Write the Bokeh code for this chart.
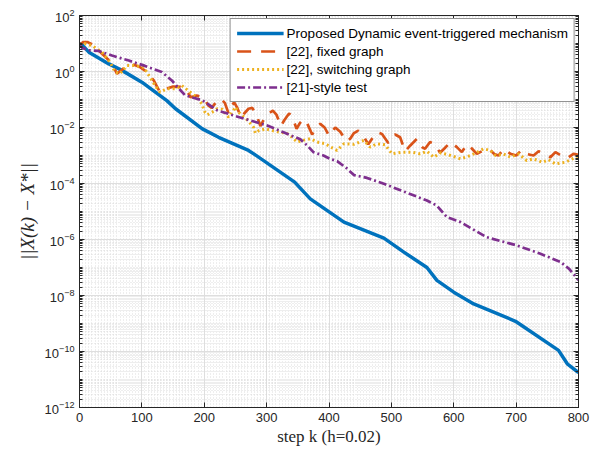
import numpy as np
from bokeh.plotting import figure
from bokeh.models import FixedTicker, LogAxis, LinearAxis, CustomJSTickFormatter
from bokeh.embed import file_html
from bokeh.resources import INLINE

# ---- data (log10 of error) ----
x_tick_vals = [0, 100, 200, 300, 400, 500, 600, 700, 800]
y_tick_exps = [-12, -10, -8, -6, -4, -2, 0, 2]

k_prop = [0, 2, 15, 47, 68, 100, 140, 154, 197, 223, 271, 280, 345, 352, 370, 424, 488,
          520, 557, 573, 600, 632, 699, 768, 782, 800]
lg_prop = [0.95, 1.0, 0.69, 0.27, 0.04, -0.38, -1.04, -1.33, -2.05, -2.35, -2.82, -2.95,
           -3.95, -4.12, -4.55, -5.38, -5.95, -6.45, -7.0, -7.46, -7.88, -8.3, -8.92,
           -9.96, -10.44, -10.75]

k_fixed = [0, 6, 13, 22, 32, 45, 54, 60, 66, 76, 87, 96, 108, 119, 129, 138, 150, 162, 172,
           178, 188, 199, 206, 212, 218, 226, 233, 239, 243, 248, 253, 259, 264, 271, 277,
           283, 290, 296, 303, 310, 316, 323, 328, 336, 341, 348, 353, 359, 365, 373, 379,
           386, 393, 400, 405, 410, 418, 428, 434, 440, 447, 455, 463, 469, 477, 485, 495,
           500, 506, 514, 522, 530, 541, 549, 554, 562, 570, 578, 585, 595, 605, 613, 621,
           629, 637, 645, 656, 665, 672, 680, 691, 700, 709, 718, 728, 736, 745, 755, 763,
           772, 782, 792, 800]
lg_fixed = [0.95, 1.05, 1.05, 0.95, 0.72, 0.45, 0.2, -0.08, 0.02, 0.21, 0.24, 0.17, -0.02,
            -0.32, -0.74, -0.62, -0.54, -0.55, -0.68, -0.92, -0.86, -0.92, -1.2, -1.3, -1.12,
            -0.97, -1.12, -1.5, -1.25, -1.1, -1.3, -1.65, -1.5, -1.33, -1.3, -1.5, -1.95,
            -1.7, -1.5, -1.4, -1.55, -1.95, -1.75, -1.5, -1.6, -2.05, -1.85, -1.7, -1.85,
            -2.25, -2.0, -1.87, -2.0, -2.3, -2.15, -2.0, -2.15, -2.5, -2.4, -2.2, -2.11,
            -2.3, -2.6, -2.4, -2.17, -2.23, -2.55, -2.4, -2.25, -2.35, -2.85, -2.65, -2.4,
            -2.7, -2.76, -2.52, -2.6, -2.9, -2.75, -2.52, -2.7, -2.88, -2.6, -2.75, -2.94,
            -2.85, -2.76, -2.95, -3.0, -2.76, -2.94, -3.0, -2.8, -2.95, -3.0, -2.85, -2.95,
            -3.06, -2.88, -3.0, -3.1, -2.94, -2.98]

k_switch = [0, 8, 20, 36, 49, 57, 65, 76, 89, 103, 113, 121, 129, 140, 153, 164, 174, 188,
            196, 201, 205, 213, 221, 229, 234, 239, 245, 250, 255, 261, 270, 279, 282, 288,
            298, 309, 322, 332, 341, 349, 360, 370, 381, 394, 403, 413, 424, 440, 456, 466,
            477, 490, 501, 517, 533, 546, 557, 568, 579, 595, 611, 627, 648, 659, 667, 680,
            691, 704, 717, 728, 742, 752, 763, 779, 790, 800]
lg_switch = [0.95, 1.0, 0.93, 0.69, 0.33, -0.02, -0.08, 0.21, 0.21, 0.15, -0.2, -0.5, -0.74,
             -0.62, -0.62, -0.5, -0.68, -0.92, -1.15, -1.45, -1.55, -1.45, -1.33, -1.35,
             -1.51, -1.63, -1.45, -1.27, -1.45, -1.57, -1.75, -1.99, -2.2, -2.11, -2.05,
             -2.11, -2.17, -2.2, -2.35, -2.52, -2.45, -2.4, -2.52, -2.58, -2.7, -2.82, -2.58,
             -2.6, -2.46, -2.7, -2.58, -2.62, -2.94, -2.88, -2.88, -2.94, -2.85, -3.06, -2.9,
             -3.0, -3.12, -3.0, -2.76, -2.82, -3.0, -2.95, -3.06, -2.94, -3.18, -3.12, -3.24,
             -3.15, -3.3, -3.24, -3.12, -3.0]

k_21 = [0, 4, 14, 30, 52, 79, 105, 132, 148, 159, 169, 181, 197, 221, 247, 274, 301, 327,
        354, 365, 375, 391, 402, 413, 428, 440, 461, 488, 557, 573, 589, 611, 653, 701, 739,
        771, 785, 800]
lg_21 = [0.95, 0.85, 0.76, 0.74, 0.57, 0.39, 0.2, -0.02, -0.32, -0.6, -0.84, -0.93, -1.03,
         -1.39, -1.57, -1.75, -1.93, -2.17, -2.42, -2.64, -2.88, -3.0, -3.12, -3.2, -3.45,
         -3.7, -3.8, -4.01, -4.61, -4.79, -5.2, -5.38, -5.92, -6.21, -6.51, -6.8, -7.05, -7.45]

labels = ["Proposed Dynamic event-triggered mechanism", "[22], fixed graph",
          "[22], switching graph", "[21]-style test"]

FONT = "Liberation Sans"
SERIF = "Liberation Serif"
INK = "#262626"

p = figure(width=601, height=451, y_axis_type="log", x_range=(0, 800), y_range=(1e-12, 1e2),
           output_backend="svg", toolbar_location=None,
           min_border_left=79, min_border_right=23, min_border_top=15, min_border_bottom=44)

p.outline_line_color = INK
p.outline_line_width = 1
p.background_fill_color = "white"
p.border_fill_color = "white"

y_major = [10.0 ** e for e in y_tick_exps]
y_minor = [m * 10.0 ** e for e in range(-12, 2) for m in range(1, 10)]
yt = FixedTicker(ticks=y_major, minor_ticks=y_minor)
xt = FixedTicker(ticks=x_tick_vals, minor_ticks=list(range(0, 801, 5)))

p.yaxis.ticker = yt
p.xaxis.ticker = xt

for ax in p.yaxis + p.xaxis:
    ax.axis_line_color = INK
    ax.major_tick_line_color = INK
    ax.minor_tick_line_color = INK
    ax.major_tick_in = 5
    ax.major_tick_out = 0
    ax.major_label_text_font = FONT
    ax.major_label_text_font_size = "13px"
    ax.major_label_text_color = INK
    ax.axis_label_text_color = INK

p.xaxis.minor_tick_in = 0
p.xaxis.minor_tick_out = 0
p.yaxis.minor_tick_in = 3
p.yaxis.minor_tick_out = 0
p.xaxis.major_label_standoff = 5
p.yaxis.major_label_standoff = 5

p.xaxis.axis_label = "step k (h=0.02)"
p.xaxis.axis_label_text_font = SERIF
p.xaxis.axis_label_text_font_style = "normal"
p.xaxis.axis_label_text_font_size = "17px"
p.xaxis.axis_label_standoff = 2

p.yaxis.axis_label = "||X(k) \u2212 X*||"
p.yaxis.axis_label_text_font = SERIF
p.yaxis.axis_label_text_font_style = "italic"
p.yaxis.axis_label_text_font_size = "19px"
p.yaxis.axis_label_standoff = 4

# box: right and top axes with inner ticks and no labels
empty = CustomJSTickFormatter(code="return ''")
ra = LogAxis(ticker=yt, formatter=empty, major_tick_in=5, major_tick_out=0,
             minor_tick_in=3, minor_tick_out=0, axis_line_color=INK,
             major_tick_line_color=INK, minor_tick_line_color=INK,
             major_label_standoff=0)
ta = LinearAxis(ticker=FixedTicker(ticks=x_tick_vals), formatter=empty, major_tick_in=5,
                major_tick_out=0, minor_tick_in=0, minor_tick_out=0,
                axis_line_color=INK, major_tick_line_color=INK,
                major_label_standoff=0)
p.add_layout(ra, "right")
p.add_layout(ta, "above")

# grids
for g in (p.xgrid, p.ygrid):
    g.grid_line_color = "#dedede"
    g.grid_line_width = 1
    g.minor_grid_line_color = "#d4d4d4"
    g.minor_grid_line_alpha = 0.8
    g.minor_grid_line_dash = "1 2"
    g.minor_grid_line_width = 1

def pw(lg):
    return [10.0 ** v for v in lg]

p.line(k_prop, pw(lg_prop), line_color="#0072BD", line_width=3.5, legend_label=labels[0])
p.line(k_fixed, pw(lg_fixed), line_color="#D95319", line_width=2.7, line_dash="14 10",
       legend_label=labels[1])
p.line(k_switch, pw(lg_switch), line_color="#EDB120", line_width=3, line_dash="2 3",
       legend_label=labels[2])
p.line(k_21, pw(lg_21), line_color="#7E2F8E", line_width=2.7, line_dash="8 3 2 3",
       legend_label=labels[3])

lg = p.legend[0]
lg.location = "top_right"
lg.margin = 3
lg.border_line_color = INK
lg.border_line_width = 1
lg.background_fill_color = "white"
lg.background_fill_alpha = 1
lg.label_text_font = FONT
lg.label_text_font_size = "13.5px"
lg.label_text_color = "black"
lg.glyph_width = 47
lg.glyph_height = 16
lg.label_height = 16
lg.label_standoff = 3
lg.spacing = 2
lg.padding = 6

open("out.html", "w").write(file_html(p, INLINE))
